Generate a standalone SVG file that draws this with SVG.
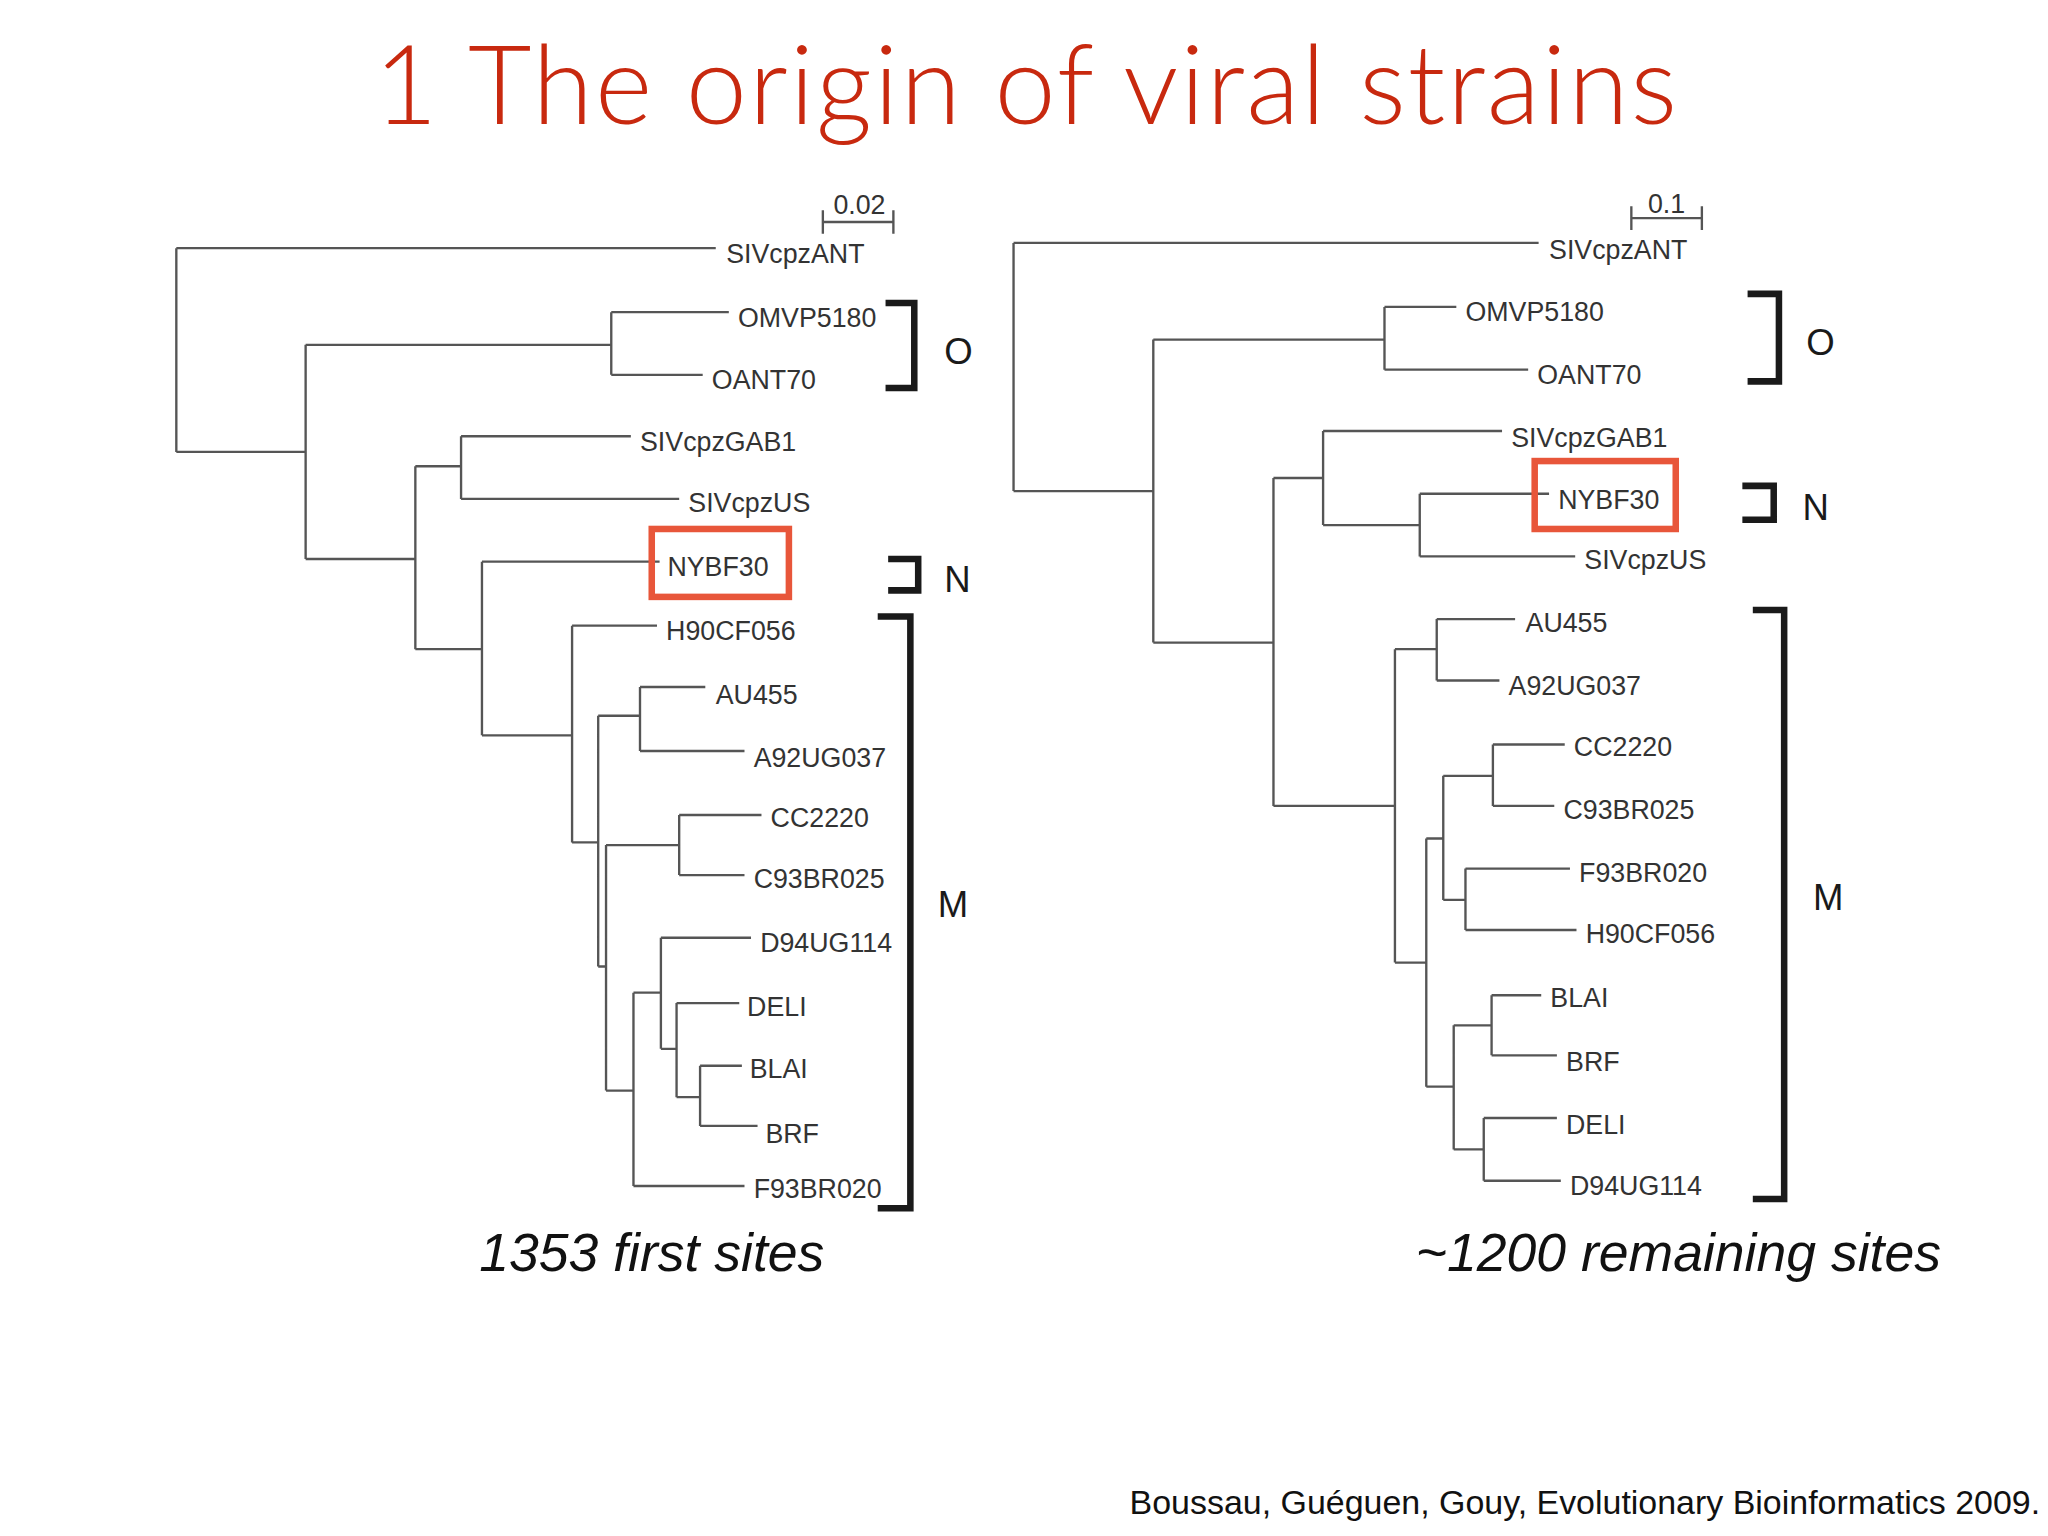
<svg xmlns="http://www.w3.org/2000/svg" width="2048" height="1536" viewBox="0 0 2048 1536">
<style>
.t{fill:none;stroke:#555;stroke-width:1.8}
.l{font-family:"Liberation Sans",Arial,sans-serif;font-size:20.5px;fill:#333}
.b{fill:none;stroke:#1a1a1a;stroke-width:5}
.g{font-family:"Liberation Sans",Arial,sans-serif;font-size:28px;fill:#1a1a1a}
.box{fill:none;stroke:#e8563a;stroke-width:5}
</style>
<rect width="2048" height="1536" fill="#fff"/>
<g transform="scale(1.30612)">
<text x="786" y="95" text-anchor="middle" font-family="Lato,'Open Sans',sans-serif" font-weight="300" font-size="84" letter-spacing="1.5" fill="#c8290f">1 The origin of viral strains</text>
<g id="connectors">
<path class="t" d="M135,190V346M135,190H548M135,346H234M234,264V428M234,264H468M468,239V287M468,239H558M468,287H538M234,428H318M318,357V497M318,357H353M353,334V382M353,334H483M353,382H520M318,497H369M369,430V563M369,430H505M369,563H438M438,479V645M438,479H503M438,645H458M458,548V740M458,548H490M490,526V575M490,526H540M490,575H570M458,740H464M464,647V835M464,647H520M520,624V670M520,624H583M520,670H570M464,835H485M485,760V908M485,760H506M506,718V803M506,718H575M506,803H518M518,768V840M518,768H566M518,840H536M536,816V862M536,816H568M536,862H580M485,908H570"/>
<path class="t" d="M630,170H684M630,161V179M684,161V179"/>
<path class="t" d="M776,186V376M776,186H1178M776,376H883M883,260V492M883,260H1060M1060,235V283M1060,235H1115M1060,283H1170M883,492H975M975,366V617M975,366H1013M1013,330V402M1013,330H1150M1013,402H1087M1087,378V426M1087,378H1186M1087,426H1206M975,617H1068M1068,497V737M1068,497H1100M1100,474V521M1100,474H1160M1100,521H1148M1068,737H1092M1092,642V832M1092,642H1105M1105,594V689M1105,594H1143M1143,570V617M1143,570H1198M1143,617H1190M1105,689H1122M1122,665V712M1122,665H1202M1122,712H1207M1092,832H1113M1113,785V880M1113,785H1142M1142,762V808M1142,762H1180M1142,808H1192M1113,880H1136M1136,856V904M1136,856H1192M1136,904H1195"/>
<path class="t" d="M1249,167H1303M1249,158V176M1303,158V176"/>
<path class="b" d="M678,232H700V297H678M680,428H703V452H680M672,472H697V925H672"/>
<path class="b" d="M1338,225H1362V292H1338M1334,372H1358V398H1334M1342,467H1366V918H1342"/>
</g>
<g id="left-labels">
<text class="l" x="658" y="164" text-anchor="middle">0.02</text>
<text class="l" x="556" y="201">SIVcpzANT</text>
<text class="l" x="565" y="250">OMVP5180</text>
<text class="l" x="545" y="298">OANT70</text>
<text class="l" x="490" y="345">SIVcpzGAB1</text>
<text class="l" x="527" y="392">SIVcpzUS</text>
<g id="nybf30-left"><rect class="box" x="499" y="405" width="105" height="52"/><text class="l" x="511" y="441">NYBF30</text></g>
<text class="l" x="510" y="490">H90CF056</text>
<text class="l" x="548" y="539">AU455</text>
<text class="l" x="577" y="587">A92UG037</text>
<text class="l" x="590" y="633">CC2220</text>
<text class="l" x="577" y="680">C93BR025</text>
<text class="l" x="582" y="729">D94UG114</text>
<text class="l" x="572" y="778">DELI</text>
<text class="l" x="574" y="825">BLAI</text>
<text class="l" x="586" y="875">BRF</text>
<text class="l" x="577" y="917">F93BR020</text>
<text class="g" x="723" y="279">O</text>
<text class="g" x="723" y="453">N</text>
<text class="g" x="718" y="702">M</text>
<text x="499" y="973" text-anchor="middle" font-family="'Liberation Sans',Arial,sans-serif" font-style="italic" font-size="41" fill="#111">1353 first sites</text>
</g>
<g id="right-labels">
<text class="l" x="1276" y="163" text-anchor="middle">0.1</text>
<text class="l" x="1186" y="198">SIVcpzANT</text>
<text class="l" x="1122" y="246">OMVP5180</text>
<text class="l" x="1177" y="294">OANT70</text>
<text class="l" x="1157" y="342">SIVcpzGAB1</text>
<g id="nybf30-right"><rect class="box" x="1175" y="353" width="108" height="52"/><text class="l" x="1193" y="390">NYBF30</text></g>
<text class="l" x="1213" y="436">SIVcpzUS</text>
<text class="l" x="1168" y="484">AU455</text>
<text class="l" x="1155" y="532">A92UG037</text>
<text class="l" x="1205" y="579">CC2220</text>
<text class="l" x="1197" y="627">C93BR025</text>
<text class="l" x="1209" y="675">F93BR020</text>
<text class="l" x="1214" y="722">H90CF056</text>
<text class="l" x="1187" y="771">BLAI</text>
<text class="l" x="1199" y="820">BRF</text>
<text class="l" x="1199" y="868">DELI</text>
<text class="l" x="1202" y="915">D94UG114</text>
<text class="g" x="1383" y="272">O</text>
<text class="g" x="1380" y="398">N</text>
<text class="g" x="1388" y="697">M</text>
<text x="1285" y="973" text-anchor="middle" font-family="'Liberation Sans',Arial,sans-serif" font-style="italic" font-size="41" fill="#111">~1200 remaining sites</text>
</g>
<text x="1562" y="1159" text-anchor="end" font-family="'Liberation Sans',Arial,sans-serif" font-size="26" fill="#111">Boussau, Guéguen, Gouy, Evolutionary Bioinformatics 2009.</text>
</g>
</svg>
